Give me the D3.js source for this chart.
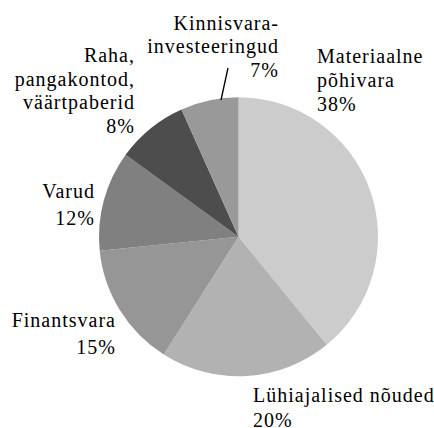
<!DOCTYPE html>
<html>
<head>
<meta charset="utf-8">
<script src="https://cdn.jsdelivr.net/npm/d3@7"></script>
<style>
html, body { margin: 0; padding: 0; background: #fff; }
svg { display: block; }
</style>
</head>
<body>
<svg id="chart" width="434" height="428"></svg>
<script>
// Data (clockwise from 12 o'clock)
const categories = ["Materiaalne põhivara", "Lühiajalised nõuded", "Finantsvara", "Varud", "Raha, pangakontod, väärtpaberid", "Kinnisvara-investeeringud"];
const values = [39.1, 19.9, 14.4, 11.6, 8.3, 6.7];
const percentLabels = ["38%", "20%", "15%", "12%", "8%", "7%"];
const labelLines = [
  ["Materiaalne", "põhivara"],
  ["Lühiajalised nõuded"],
  ["Finantsvara"],
  ["Varud"],
  ["Raha,", "pangakontod,", "väärtpaberid"],
  ["Kinnisvara-", "investeeringud"]
];
const colors = ["#cccccc", "#b2b2b2", "#969696", "#808080", "#4d4d4d", "#999999"];

// Layout
const cx = 238.5, cy = 236.7, radius = 139.5;
const labelLayout = [
  { x: 317, y: 63,  anchor: "start", dy: 24 },
  { x: 253, y: 401.5, anchor: "start", dy: 25 },
  { x: 116, y: 327, anchor: "end",   dy: 26.5 },
  { x: 95,  y: 198, anchor: "end",   dy: 26.5 },
  { x: 135, y: 62,  anchor: "end",   dy: 23.5 },
  { x: 279, y: 29.5,anchor: "end",   dy: 23.5 }
];
const fontFamily = "'Liberation Serif', 'Times New Roman', Times, 'DejaVu Serif', serif";

const svg = d3.select("#chart");
const g = svg.append("g").attr("transform", `translate(${cx},${cy})`);

const pie = d3.pie().sort(null).value(d => d)
  .startAngle(0).endAngle(2 * Math.PI);
const arcs = pie(values);
const arc = d3.arc().innerRadius(0).outerRadius(radius);

g.selectAll("path.slice")
  .data(arcs)
  .join("path")
  .attr("class", "slice")
  .attr("d", arc)
  .attr("fill", (d, i) => colors[i]);

// Leader line for the small slice
svg.append("line")
  .attr("x1", 221).attr("y1", 100)
  .attr("x2", 228).attr("y2", 68)
  .attr("stroke", "#000").attr("stroke-width", 1.3);

// Labels
categories.forEach((c, i) => {
  const L = labelLayout[i];
  const lines = labelLines[i].concat([percentLabels[i]]);
  const t = svg.append("text")
    .attr("text-anchor", L.anchor)
    .attr("font-family", fontFamily)
    .attr("font-size", 20)
    .attr("letter-spacing", 1)
    .attr("fill", "#000");
  lines.forEach((ln, j) => {
    t.append("tspan")
      .attr("x", L.x)
      .attr("y", L.y + j * L.dy)
      .text(ln);
  });
});
</script>
</body>
</html>
